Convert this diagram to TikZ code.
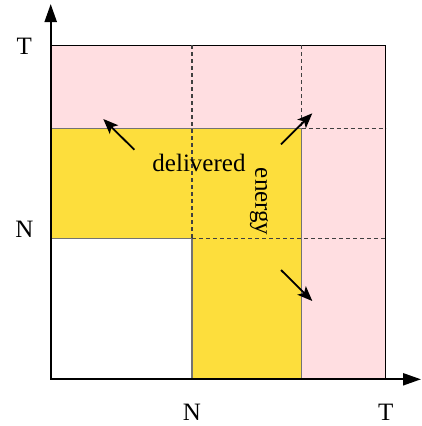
\documentclass[tikz,border=0pt]{standalone}
\usepackage{fontspec}
\setmainfont{Liberation Serif}
\usetikzlibrary{arrows.meta}
\definecolor{pinkfill}{RGB}{255,222,225}
\definecolor{yellowfill}{RGB}{253,222,60}
\begin{document}
\begin{tikzpicture}[x=1pt,y=-1pt,
  lbl/.style={font=\fontsize{25}{30}\selectfont, inner sep=0pt},
  dashline/.style={dash pattern=on 4pt off 3pt, line width=1.1pt, draw=black!75},
  grayedge/.style={draw=black!55, line width=1.1pt},
  axis/.style={line width=2.2pt, {Triangle[length=18pt,width=12pt]}-{Triangle[length=18pt,width=12pt]}},
  flow/.style={line width=1.8pt, -{Stealth[length=15pt,width=12pt,inset=3.5pt]}}
]
\useasboundingbox (0,0) rectangle (421,426);
% regions
\fill[pinkfill] (50.7,45.3) rectangle (385.7,379.3);
\fill[yellowfill] (50.7,128.7) -- (301.7,128.7) -- (301.7,379.3) -- (192,379.3) -- (192,238.7) -- (50.7,238.7) -- cycle;
\fill[white] (50.7,238.7) rectangle (192,379.3);
\draw[grayedge] (50.7,128.7) -- (301.7,128.7) -- (301.7,379.3);
\draw[grayedge] (50.7,238.7) -- (192,238.7) -- (192,379.3);
\draw[line width=1.2pt] (50.7,45.3) -- (385.7,45.3) -- (385.7,379.3);
% dashed grid
\draw[dashline] (192,45.3) -- (192,238.7);
\draw[dashline] (301.7,45.3) -- (301.7,128.7);
\draw[dashline] (301.7,128.7) -- (385.7,128.7);
\draw[dashline] (192,238.7) -- (385.7,238.7);
% axes
\coordinate (ytop) at (50.7,4);
\coordinate (orig) at (50.7,379.3);
\coordinate (xend) at (421,379.3);
\draw[axis] (ytop) -- (orig) -- (xend);
% labels
\node[lbl] (yT) at (24.3,46.7) {T};
\node[lbl] (yN) at (24.3,229.3) {N};
\node[lbl] (xN) at (192,412) {N};
\node[lbl] (xT) at (385.7,412) {T};
\node[lbl] (deliv) at (199,163.3) {delivered};
\node[lbl, rotate=-90] (energy) at (259,201.7) {energy};
% arrows
\coordinate (a1s) at (134.3,149.7);
\coordinate (a1e) at (103.3,119);
\coordinate (a2s) at (281,144.3);
\coordinate (a2e) at (312.3,113.3);
\coordinate (a3s) at (281,270);
\coordinate (a3e) at (312.3,301);
\draw[flow] (a1s) -- (a1e);
\draw[flow] (a2s) -- (a2e);
\draw[flow] (a3s) -- (a3e);
\end{tikzpicture}
\end{document}
